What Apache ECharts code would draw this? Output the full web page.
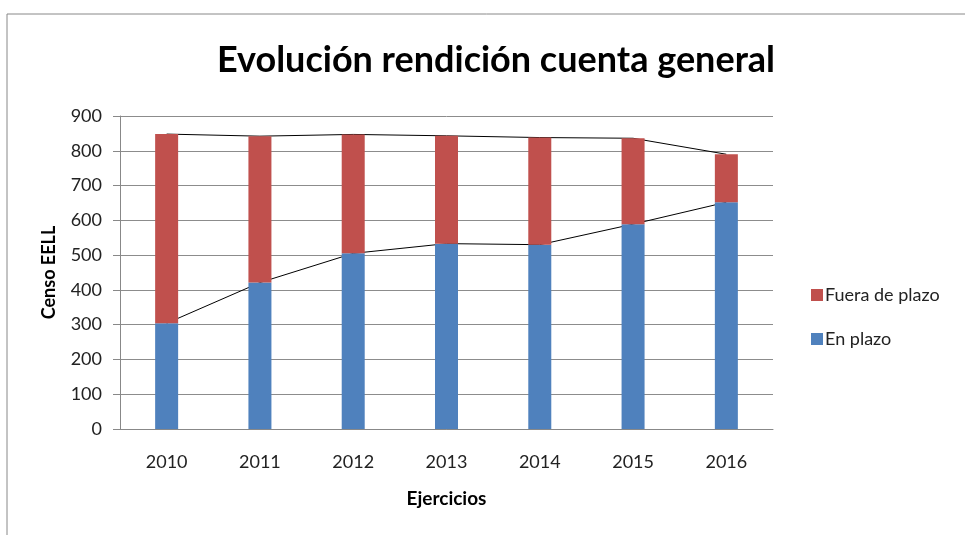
<!DOCTYPE html>
<html>
<head>
<meta charset="utf-8">
<script src="https://cdn.jsdelivr.net/npm/echarts@6/dist/echarts.min.js"></script>
<style>html,body{margin:0;padding:0;background:#fff;}#c{width:965px;height:535px;}</style>
</head>
<body>
<div id="c"></div>
<script>
const categories = ['2010','2011','2012','2013','2014','2015','2016'];
const enPlazo = [304, 421, 505, 533, 530, 589, 652];
const fueraPlazo = [544, 421, 342, 310, 308, 247, 138];
const yTicks = [0, 100, 200, 300, 400, 500, 600, 700, 800, 900];

const totals = enPlazo.map((v, i) => v + fueraPlazo[i]);
const FONT = 'Lato';
const chart = echarts.init(document.getElementById('c'));
chart.setOption({
  animation: false,
  backgroundColor: '#fff',
  title: {
    text: 'Evolución rendición cuenta general',
    left: 491, top: 37, textAlign: 'center',
    textStyle: { fontFamily: FONT, fontSize: 36, fontWeight: 'bold', color: '#000' }
  },
  graphic: [{
    type: 'rect', shape: { x: 7, y: 14, width: 1100, height: 700 },
    style: { fill: 'none', stroke: '#888', lineWidth: 1 }, z: -10
  }],
  legend: {
    orient: 'vertical', left: 806, top: 281, itemWidth: 12, itemHeight: 12, itemGap: 26,
    icon: 'rect',
    data: ['Fuera de plazo', 'En plazo'],
    textStyle: { fontFamily: FONT, fontSize: 18, color: '#222', padding: [0, 0, 0, -3] }
  },
  grid: { left: 120, right: 192, top: 116, bottom: 106 },
  xAxis: {
    type: 'category', data: categories,
    name: 'Ejercicios', nameLocation: 'middle', nameGap: 60,
    nameTextStyle: { fontFamily: FONT, fontSize: 19, fontWeight: 'bold', color: '#000' },
    axisLine: { lineStyle: { color: '#888' } },
    axisTick: { show: false },
    axisLabel: { fontFamily: FONT, fontSize: 18, color: '#222', margin: 24 }
  },
  yAxis: {
    type: 'value', min: yTicks[0], max: yTicks[yTicks.length - 1], interval: 100,
    name: 'Censo EELL', nameLocation: 'middle', nameGap: 62, nameRotate: 90,
    nameTextStyle: { fontFamily: FONT, fontSize: 18, fontWeight: 'bold', color: '#000' },
    axisLine: { show: true, lineStyle: { color: '#888' } },
    axisTick: { show: true, length: 7, lineStyle: { color: '#888' } },
    axisLabel: { fontFamily: FONT, fontSize: 18, color: '#222', margin: 18 },
    splitLine: { lineStyle: { color: '#8c8c8c' } }
  },
  series: [
    { name: 'En plazo', type: 'bar', stack: 't', data: enPlazo, barWidth: 23,
      itemStyle: { color: '#4F81BD' }, z: 3 },
    { name: 'Fuera de plazo', type: 'bar', stack: 't', data: fueraPlazo, barWidth: 23,
      itemStyle: { color: '#C0504D' }, z: 3 },
    { name: 'lineTotal', type: 'line', data: totals, symbol: 'none', z: 2,
      lineStyle: { color: '#000', width: 1 }, silent: true },
    { name: 'lineEn', type: 'line', data: enPlazo, symbol: 'none', z: 2,
      lineStyle: { color: '#000', width: 1 }, silent: true }
  ]
});
</script>
</body>
</html>
